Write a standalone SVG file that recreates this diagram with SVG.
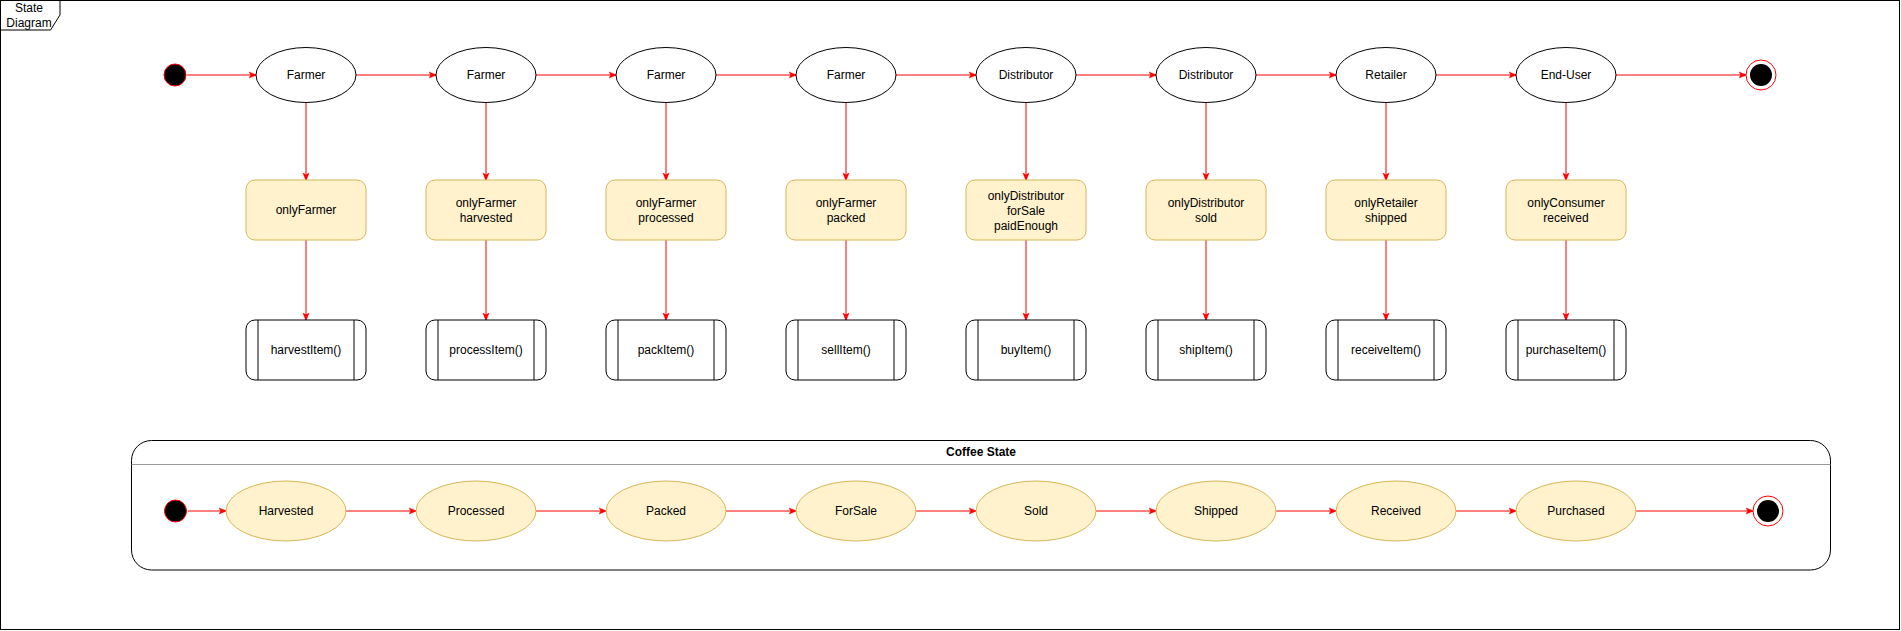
<svg xmlns="http://www.w3.org/2000/svg" width="1901" height="631" viewBox="0 0 1901 631">
<defs>
<style>
text{font-family:"Liberation Sans",Arial,sans-serif;font-size:12px;fill:#000;text-anchor:middle;dominant-baseline:central}
.st{fill:#fff;stroke:#000;stroke-width:1}
.guard{fill:#fff2cc;stroke:#d6b656;stroke-width:1}
.proc{fill:#fff;stroke:#000;stroke-width:1}
.ys{fill:#fff2cc;stroke:#d6b656;stroke-width:1}
.init{fill:#000;stroke:#ff0000;stroke-width:1}
.fin{fill:#fff;stroke:#ff0000;stroke-width:1}
.edge{fill:none;stroke:#ff0000;stroke-width:1}
</style>
<marker id="arr" viewBox="0 0 10 10" refX="9" refY="5" markerWidth="8" markerHeight="8" orient="auto" markerUnits="userSpaceOnUse">
<path d="M0,1 L10,5 L0,9 L2.5,5 Z" fill="#ff0000" stroke="#ff0000" stroke-width="0.5"/>
</marker>
</defs>
<rect x="0" y="0" width="1901" height="631" fill="#fff"/>
<g id="frame">
<rect x="0.5" y="0.5" width="1899" height="629" fill="none" stroke="#000"/>
<path d="M0.5,0.5 L60,0.5 L60,15 L50.5,30 L0.5,30 Z" fill="#fff" stroke="#000"/>
<text x="29" y="8">State</text>
<text x="29" y="23">Diagram</text>
</g>
<g id="connectors">
<line class="edge" x1="187" y1="75" x2="256" y2="75" marker-end="url(#arr)"/>
<line class="edge" x1="356" y1="75" x2="436" y2="75" marker-end="url(#arr)"/>
<line class="edge" x1="536" y1="75" x2="616" y2="75" marker-end="url(#arr)"/>
<line class="edge" x1="716" y1="75" x2="796" y2="75" marker-end="url(#arr)"/>
<line class="edge" x1="896" y1="75" x2="976" y2="75" marker-end="url(#arr)"/>
<line class="edge" x1="1076" y1="75" x2="1156" y2="75" marker-end="url(#arr)"/>
<line class="edge" x1="1256" y1="75" x2="1336" y2="75" marker-end="url(#arr)"/>
<line class="edge" x1="1436" y1="75" x2="1516" y2="75" marker-end="url(#arr)"/>
<line class="edge" x1="1616" y1="75" x2="1746" y2="75" marker-end="url(#arr)"/>
<g id="vert">
<line class="edge" x1="306" y1="102.5" x2="306" y2="180" marker-end="url(#arr)"/>
<line class="edge" x1="486" y1="102.5" x2="486" y2="180" marker-end="url(#arr)"/>
<line class="edge" x1="666" y1="102.5" x2="666" y2="180" marker-end="url(#arr)"/>
<line class="edge" x1="846" y1="102.5" x2="846" y2="180" marker-end="url(#arr)"/>
<line class="edge" x1="1026" y1="102.5" x2="1026" y2="180" marker-end="url(#arr)"/>
<line class="edge" x1="1206" y1="102.5" x2="1206" y2="180" marker-end="url(#arr)"/>
<line class="edge" x1="1386" y1="102.5" x2="1386" y2="180" marker-end="url(#arr)"/>
<line class="edge" x1="1566" y1="102.5" x2="1566" y2="180" marker-end="url(#arr)"/>
<line class="edge" x1="306" y1="240" x2="306" y2="320" marker-end="url(#arr)"/>
<line class="edge" x1="486" y1="240" x2="486" y2="320" marker-end="url(#arr)"/>
<line class="edge" x1="666" y1="240" x2="666" y2="320" marker-end="url(#arr)"/>
<line class="edge" x1="846" y1="240" x2="846" y2="320" marker-end="url(#arr)"/>
<line class="edge" x1="1026" y1="240" x2="1026" y2="320" marker-end="url(#arr)"/>
<line class="edge" x1="1206" y1="240" x2="1206" y2="320" marker-end="url(#arr)"/>
<line class="edge" x1="1386" y1="240" x2="1386" y2="320" marker-end="url(#arr)"/>
<line class="edge" x1="1566" y1="240" x2="1566" y2="320" marker-end="url(#arr)"/>
</g>
</g>
<g id="init-top"><circle class="init" cx="175" cy="75" r="11"/></g>
<g id="final-top"><circle class="fin" cx="1761" cy="75" r="15"/><circle cx="1761" cy="75" r="11" fill="#000"/></g>
<g id="s1"><ellipse class="st" cx="306" cy="75" rx="50" ry="27.5"/><text x="306" y="75">Farmer</text></g>
<g id="s2"><ellipse class="st" cx="486" cy="75" rx="50" ry="27.5"/><text x="486" y="75">Farmer</text></g>
<g id="s3"><ellipse class="st" cx="666" cy="75" rx="50" ry="27.5"/><text x="666" y="75">Farmer</text></g>
<g id="s4"><ellipse class="st" cx="846" cy="75" rx="50" ry="27.5"/><text x="846" y="75">Farmer</text></g>
<g id="s5"><ellipse class="st" cx="1026" cy="75" rx="50" ry="27.5"/><text x="1026" y="75">Distributor</text></g>
<g id="s6"><ellipse class="st" cx="1206" cy="75" rx="50" ry="27.5"/><text x="1206" y="75">Distributor</text></g>
<g id="s7"><ellipse class="st" cx="1386" cy="75" rx="50" ry="27.5"/><text x="1386" y="75">Retailer</text></g>
<g id="s8"><ellipse class="st" cx="1566" cy="75" rx="50" ry="27.5"/><text x="1566" y="75">End-User</text></g>
<g id="g1"><rect class="guard" x="246" y="180" width="120" height="60" rx="9"/><text x="306" y="210">onlyFarmer</text></g>
<g id="g2"><rect class="guard" x="426" y="180" width="120" height="60" rx="9"/><text x="486" y="203">onlyFarmer</text><text x="486" y="218">harvested</text></g>
<g id="g3"><rect class="guard" x="606" y="180" width="120" height="60" rx="9"/><text x="666" y="203">onlyFarmer</text><text x="666" y="218">processed</text></g>
<g id="g4"><rect class="guard" x="786" y="180" width="120" height="60" rx="9"/><text x="846" y="203">onlyFarmer</text><text x="846" y="218">packed</text></g>
<g id="g5"><rect class="guard" x="966" y="180" width="120" height="60" rx="9"/><text x="1026" y="195.5">onlyDistributor</text><text x="1026" y="210.5">forSale</text><text x="1026" y="225.5">paidEnough</text></g>
<g id="g6"><rect class="guard" x="1146" y="180" width="120" height="60" rx="9"/><text x="1206" y="203">onlyDistributor</text><text x="1206" y="218">sold</text></g>
<g id="g7"><rect class="guard" x="1326" y="180" width="120" height="60" rx="9"/><text x="1386" y="203">onlyRetailer</text><text x="1386" y="218">shipped</text></g>
<g id="g8"><rect class="guard" x="1506" y="180" width="120" height="60" rx="9"/><text x="1566" y="203">onlyConsumer</text><text x="1566" y="218">received</text></g>
<g id="p1"><rect class="proc" x="246" y="320" width="120" height="60" rx="9"/><line x1="258" y1="320" x2="258" y2="380" stroke="#000"/><line x1="354" y1="320" x2="354" y2="380" stroke="#000"/><text x="306" y="350">harvestItem()</text></g>
<g id="p2"><rect class="proc" x="426" y="320" width="120" height="60" rx="9"/><line x1="438" y1="320" x2="438" y2="380" stroke="#000"/><line x1="534" y1="320" x2="534" y2="380" stroke="#000"/><text x="486" y="350">processItem()</text></g>
<g id="p3"><rect class="proc" x="606" y="320" width="120" height="60" rx="9"/><line x1="618" y1="320" x2="618" y2="380" stroke="#000"/><line x1="714" y1="320" x2="714" y2="380" stroke="#000"/><text x="666" y="350">packItem()</text></g>
<g id="p4"><rect class="proc" x="786" y="320" width="120" height="60" rx="9"/><line x1="798" y1="320" x2="798" y2="380" stroke="#000"/><line x1="894" y1="320" x2="894" y2="380" stroke="#000"/><text x="846" y="350">sellItem()</text></g>
<g id="p5"><rect class="proc" x="966" y="320" width="120" height="60" rx="9"/><line x1="978" y1="320" x2="978" y2="380" stroke="#000"/><line x1="1074" y1="320" x2="1074" y2="380" stroke="#000"/><text x="1026" y="350">buyItem()</text></g>
<g id="p6"><rect class="proc" x="1146" y="320" width="120" height="60" rx="9"/><line x1="1158" y1="320" x2="1158" y2="380" stroke="#000"/><line x1="1254" y1="320" x2="1254" y2="380" stroke="#000"/><text x="1206" y="350">shipItem()</text></g>
<g id="p7"><rect class="proc" x="1326" y="320" width="120" height="60" rx="9"/><line x1="1338" y1="320" x2="1338" y2="380" stroke="#000"/><line x1="1434" y1="320" x2="1434" y2="380" stroke="#000"/><text x="1386" y="350">receiveItem()</text></g>
<g id="p8"><rect class="proc" x="1506" y="320" width="120" height="60" rx="9"/><line x1="1518" y1="320" x2="1518" y2="380" stroke="#000"/><line x1="1614" y1="320" x2="1614" y2="380" stroke="#000"/><text x="1566" y="350">purchaseItem()</text></g>
<g id="coffee-state">
<rect x="131.5" y="440.5" width="1699" height="129.5" rx="20" fill="#fff" stroke="#000"/>
<line x1="131.5" y1="464.5" x2="1830.5" y2="464.5" stroke="#999"/>
<text x="981" y="452" font-weight="bold">Coffee State</text>
</g>
<g id="connectors-bottom">
<line class="edge" x1="188" y1="511" x2="226" y2="511" marker-end="url(#arr)"/>
<line class="edge" x1="346" y1="511" x2="416" y2="511" marker-end="url(#arr)"/>
<line class="edge" x1="536" y1="511" x2="606" y2="511" marker-end="url(#arr)"/>
<line class="edge" x1="726" y1="511" x2="796" y2="511" marker-end="url(#arr)"/>
<line class="edge" x1="916" y1="511" x2="976" y2="511" marker-end="url(#arr)"/>
<line class="edge" x1="1096" y1="511" x2="1156" y2="511" marker-end="url(#arr)"/>
<line class="edge" x1="1276" y1="511" x2="1336" y2="511" marker-end="url(#arr)"/>
<line class="edge" x1="1456" y1="511" x2="1516" y2="511" marker-end="url(#arr)"/>
<line class="edge" x1="1636" y1="511" x2="1753" y2="511" marker-end="url(#arr)"/>
</g>
<g id="init-bottom"><circle class="init" cx="175.5" cy="511" r="11"/></g>
<g id="final-bottom"><circle class="fin" cx="1768" cy="511" r="15"/><circle cx="1768" cy="511" r="11" fill="#000"/></g>
<g id="c1"><ellipse class="ys" cx="286" cy="511" rx="60" ry="30"/><text x="286" y="511">Harvested</text></g>
<g id="c2"><ellipse class="ys" cx="476" cy="511" rx="60" ry="30"/><text x="476" y="511">Processed</text></g>
<g id="c3"><ellipse class="ys" cx="666" cy="511" rx="60" ry="30"/><text x="666" y="511">Packed</text></g>
<g id="c4"><ellipse class="ys" cx="856" cy="511" rx="60" ry="30"/><text x="856" y="511">ForSale</text></g>
<g id="c5"><ellipse class="ys" cx="1036" cy="511" rx="60" ry="30"/><text x="1036" y="511">Sold</text></g>
<g id="c6"><ellipse class="ys" cx="1216" cy="511" rx="60" ry="30"/><text x="1216" y="511">Shipped</text></g>
<g id="c7"><ellipse class="ys" cx="1396" cy="511" rx="60" ry="30"/><text x="1396" y="511">Received</text></g>
<g id="c8"><ellipse class="ys" cx="1576" cy="511" rx="60" ry="30"/><text x="1576" y="511">Purchased</text></g>
</svg>
